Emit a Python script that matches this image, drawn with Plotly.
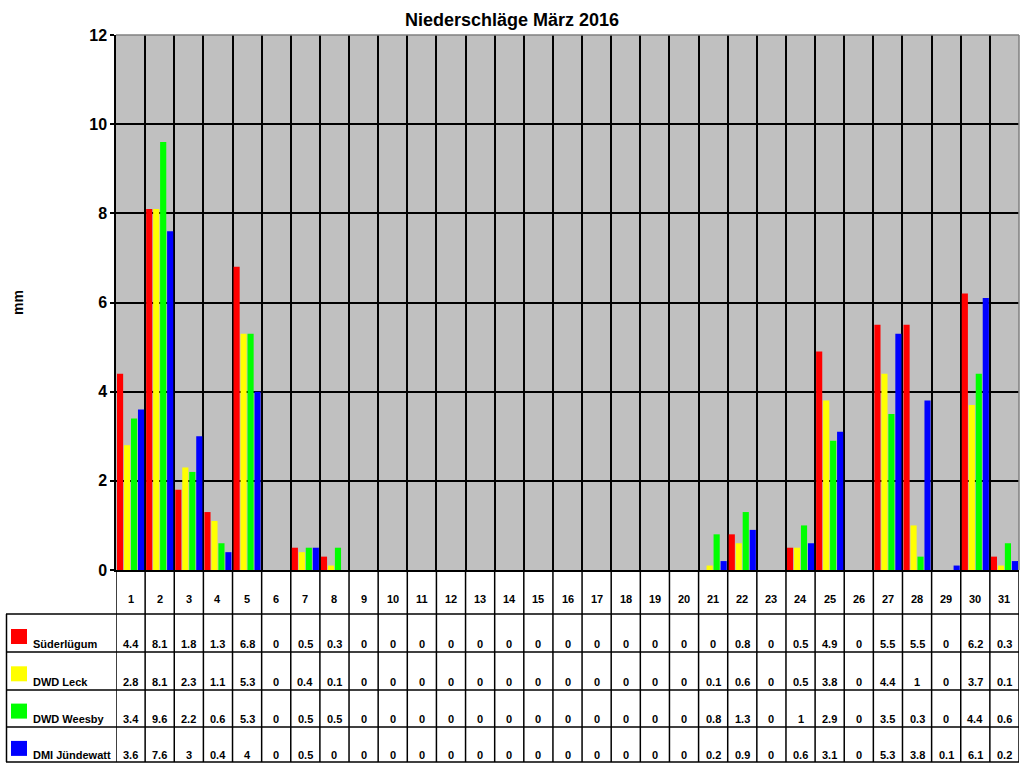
import plotly.graph_objects as go

days = list(range(1, 32))
series_names = ["Süderlügum", "DWD Leck", "DWD Weesby", "DMI Jündewatt"]
colors = ["#ff0000", "#ffff00", "#00ff00", "#0000ff"]

suederluegum = [4.4, 8.1, 1.8, 1.3, 6.8, 0, 0.5, 0.3, 0, 0, 0, 0, 0, 0, 0, 0, 0, 0, 0, 0,
                0, 0.8, 0, 0.5, 4.9, 0, 5.5, 5.5, 0, 6.2, 0.3]
leck = [2.8, 8.1, 2.3, 1.1, 5.3, 0, 0.4, 0.1, 0, 0, 0, 0, 0, 0, 0, 0, 0, 0, 0, 0,
        0.1, 0.6, 0, 0.5, 3.8, 0, 4.4, 1, 0, 3.7, 0.1]
weesby = [3.4, 9.6, 2.2, 0.6, 5.3, 0, 0.5, 0.5, 0, 0, 0, 0, 0, 0, 0, 0, 0, 0, 0, 0,
          0.8, 1.3, 0, 1, 2.9, 0, 3.5, 0.3, 0, 4.4, 0.6]
juendewatt = [3.6, 7.6, 3, 0.4, 4, 0, 0.5, 0, 0, 0, 0, 0, 0, 0, 0, 0, 0, 0, 0, 0,
              0.2, 0.9, 0, 0.6, 3.1, 0, 5.3, 3.8, 0.1, 6.1, 0.2]
all_series = [suederluegum, leck, weesby, juendewatt]

W, H = 1024, 768
L, R, T, B = 116, 1019, 35, 570
FONT = "Arial, Liberation Sans, sans-serif"


def py(ypix):
    return (B - ypix) / (B - T)


def px(xpix):
    return (xpix - L) / (R - L)


fig = go.Figure()
for name, vals, c in zip(series_names, all_series, colors):
    fig.add_trace(go.Bar(x=days, y=vals, name=name, marker=dict(color=c, line=dict(width=0)),
                         hoverinfo="x+y+name"))

annotations = []
shapes = []

# header day numbers
for d in days:
    annotations.append(dict(x=d, y=py(599), xref="x", yref="paper", text=f"<b>{d}</b>",
                            xanchor="center", yanchor="middle",
                            showarrow=False, font=dict(family=FONT, size=11, color="black")))

row_text_y = [644, 682, 719, 755]
row_lines = [614, 652, 690, 727, 762]


def fmt(v):
    return str(int(v)) if float(v).is_integer() else str(v)


for ri, (name, vals, c) in enumerate(zip(series_names, all_series, colors)):
    yt = row_text_y[ri]
    for d, v in zip(days, vals):
        annotations.append(dict(x=d, y=py(yt), xref="x", yref="paper", text=f"<b>{fmt(v)}</b>",
                                xanchor="center", yanchor="middle",
                                showarrow=False, font=dict(family=FONT, size=11, color="black")))
    annotations.append(dict(x=px(31), y=py(yt), xref="paper", yref="paper", text=f"<b>{name}</b>",
                            xanchor="left", yanchor="middle", showarrow=False,
                            font=dict(family=FONT, size=11, color="black")))
    shapes.append(dict(type="rect", xref="paper", yref="paper",
                       x0=px(11), x1=px(27), y0=py(629 + ri * 37.3), y1=py(644 + ri * 37.3),
                       fillcolor=c, line=dict(width=0)))

# y-axis title
annotations.append(dict(x=px(18), y=py(303), xref="paper", yref="paper", text="<b>mm</b>",
                        xanchor="center", yanchor="middle",
                        textangle=-90, showarrow=False, font=dict(family=FONT, size=14, color="black")))

# table lines
for yl in row_lines:
    shapes.append(dict(type="line", xref="paper", yref="paper", x0=px(6), x1=px(R), y0=py(yl), y1=py(yl),
                       line=dict(color="black", width=1.5)))
shapes.append(dict(type="line", xref="paper", yref="paper", x0=px(6.5), x1=px(6.5), y0=py(614), y1=py(762),
                   line=dict(color="black", width=1.5)))
for k in range(0, 32):
    shapes.append(dict(type="line", xref="x", yref="paper", x0=k + 0.5, x1=k + 0.5, y0=py(570), y1=py(762),
                       line=dict(color="black", width=1.5)))
# plot borders top/right gray
shapes.append(dict(type="line", xref="paper", yref="paper", x0=0, x1=1, y0=1, y1=1,
                   line=dict(color="#808080", width=1.5)))
shapes.append(dict(type="line", xref="paper", yref="paper", x0=1, x1=1, y0=0, y1=1,
                   line=dict(color="#808080", width=1.5)))

fig.update_layout(
    width=W, height=H,
    margin=dict(l=L, r=W - R, t=T, b=H - B),
    paper_bgcolor="white", plot_bgcolor="#c0c0c0",
    barmode="group", bargap=0.04, bargroupgap=0.12,
    showlegend=False,
    title=dict(text="<b>Niederschläge März 2016</b>", x=0.5, xanchor="center", y=0.974, yanchor="middle",
               font=dict(family=FONT, size=18, color="black")),
    xaxis=dict(range=[0.5, 31.5], tick0=0.5, dtick=1, showticklabels=False, showgrid=True,
               gridcolor="black", gridwidth=1.5, zeroline=False, showline=True, linecolor="black",
               linewidth=1.5, ticks=""),
    yaxis=dict(range=[0, 12], dtick=2, showgrid=True, gridcolor="black", gridwidth=1.5,
               zeroline=False, showline=True, linecolor="black", linewidth=1.5,
               ticks="outside", ticklen=4, tickcolor="black", tickwidth=1.5,
               tickfont=dict(family=FONT, size=16, color="black")),
    annotations=annotations,
    shapes=shapes,
)
fig.update_yaxes(tickprefix="<b>", ticksuffix="</b>")

fig.write_html("out.html", config={"displayModeBar": False},
               post_script="document.body.style.margin='0';document.body.style.overflow='hidden';")
